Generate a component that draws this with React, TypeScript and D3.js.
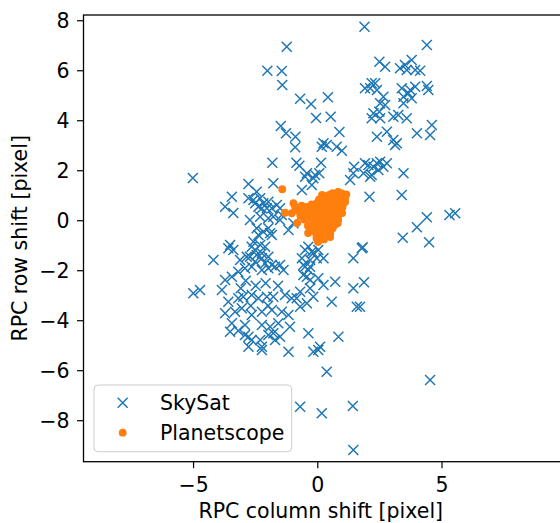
import React from 'react';
import * as d3 from 'd3';

// SkySat RPC shifts [col, row]
const skysat: [number, number][] = [
  [1.88, 7.76], [-1.25, 6.96], [-2.03, 6.0], [-1.45, 5.99], [-1.43, 5.43], [-0.71, 4.88], [-0.27, 4.67],
  [0.41, 4.94], [-0.07, 4.11], [0.52, 4.16], [-1.49, 3.79], [-1.28, 3.5], [-0.9, 3.36], [-0.91, 2.94],
  [0.23, 3.1], [0.16, 2.96], [0.36, 3.03], [0.87, 3.55], [0.97, 2.8], [0.76, 2.96], [-1.83, 2.32],
  [-0.86, 2.32], [-0.74, 2.2], [0.13, 2.32], [0.06, 1.9], [-0.44, 1.9], [-0.11, 1.83], [1.46, 2.16],
  [1.43, 1.9], [1.9, 2.3], [2.04, 2.23], [2.38, 2.3], [2.17, 1.83], [-5.03, 1.71], [-2.79, 1.47],
  [-1.79, 1.5], [1.9, 5.3], [2.17, 5.5], [2.38, 5.23], [2.24, 4.3], [2.48, 4.36], [2.17, 4.1],
  [2.38, 3.36], [2.48, 6.36], [4.39, 7.03], [2.71, 6.16], [3.31, 6.1], [3.51, 6.23], [3.78, 6.43],
  [3.92, 6.03], [4.12, 6.0], [3.58, 6.03], [2.11, 5.3], [2.31, 5.5], [2.64, 4.96], [2.51, 4.7],
  [2.71, 4.63], [3.38, 5.3], [3.72, 5.23], [3.92, 5.36], [4.39, 5.39], [4.45, 5.23], [3.45, 4.96],
  [3.78, 4.9], [3.65, 5.1], [3.45, 4.7], [2.51, 4.1], [3.04, 4.16], [3.24, 4.23], [3.58, 4.1],
  [4.59, 3.83], [4.52, 3.43], [3.99, 3.5], [2.78, 3.56], [3.04, 3.23], [3.18, 3.1], [3.11, 3.03],
  [2.51, 2.36], [2.78, 2.3], [2.64, 2.16], [2.24, 2.16], [3.45, 1.9], [1.84, 1.9], [2.44, 2.03],
  [2.08, 0.96], [3.38, 1.03], [4.39, 0.14], [3.99, -0.26], [3.42, -0.68], [4.48, -0.86], [5.3, 0.23],
  [5.53, 0.3], [1.81, -1.06], [1.86, -2.46], [1.7, -3.44], [4.52, -6.37],
  [-3.46, 0.96], [-3.73, 0.56], [-3.4, 0.31], [-2.59, 0.83], [-2.32, 0.9], [-2.19, 0.7], [-1.99, 0.76],
  [-2.39, 0.56], [-2.05, 0.5], [-1.85, 0.5], [-1.65, 0.63], [-1.52, 0.5], [-2.73, 0.03], [-2.32, 0.16],
  [-1.99, 0.1], [-1.79, 0.16], [-1.52, 0.03], [-2.46, -0.3], [-2.39, -0.57], [-2.19, -0.44], [-1.92, -0.5],
  [-1.18, -0.37], [-0.98, -0.1], [-3.53, -0.97], [-3.4, -1.17], [-3.6, -1.1], [-2.59, -0.84], [-2.52, -1.17],
  [-2.32, -0.97], [-2.12, -1.04], [-2.46, -1.37], [-2.25, -1.3], [-4.2, -1.57], [-3.13, -1.57], [-2.86, -1.44],
  [-1.52, -1.77], [-1.38, -1.97], [-0.51, -1.17], [-0.24, -1.24], [-0.64, -1.5], [-0.31, -1.57], [0.23, -1.5],
  [-0.51, -1.84], [-0.38, -1.97], [-0.44, -2.24], [1.43, -1.5], [1.77, -1.1], [1.3, 1.63], [2.11, 1.76],
  [-5.01, -2.9], [-4.74, -2.77], [-0.31, -2.7], [-0.18, -3.04], [-0.44, -3.3], [0.7, -2.44], [0.23, -2.57],
  [0.56, -3.24], [1.43, -2.7], [1.57, -3.44], [-0.38, -4.5], [0.09, -5.04], [0.83, -4.64], [-1.12, -4.24],
  [-0.85, -3.1], [-0.71, -3.44],
  [-3.53, -4.44], [-2.79, -4.64], [-2.32, -4.77], [-1.99, -4.57], [-1.79, -4.5], [-1.52, -4.64], [-2.79, -5.04],
  [-2.25, -5.17], [-1.18, -5.24], [-0.18, -5.24], [0.02, -5.17], [0.36, -6.04], [-0.71, -7.44], [0.16, -7.7],
  [1.41, -7.41], [1.43, -9.17],
  [-3.73, -2.37], [-3.86, -2.77], [-3.46, -2.24], [-3.2, -2.04], [-2.93, -1.9], [-2.66, -1.84], [-2.25, -1.97],
  [-1.99, -1.9], [-1.72, -1.84], [-3.6, -3.24], [-3.2, -3.1], [-3.0, -3.04], [-2.66, -2.97], [-2.39, -3.1],
  [-2.05, -3.04], [-1.79, -3.04], [-1.32, -2.97], [-1.05, -3.1], [-3.73, -3.7], [-3.33, -3.64], [-3.06, -3.5],
  [-2.66, -3.77], [-2.25, -3.64], [-1.85, -3.57], [-1.45, -3.64], [-1.18, -3.77], [-3.46, -4.1], [-2.93, -4.17],
  [-2.25, -4.17], [-1.92, -4.24], [-1.59, -4.1], [-2.93, -4.57], [-2.66, -4.77], [-2.25, -5.04], [-1.72, -4.77],
  [-0.58, -2.17], [-0.31, -2.37], [0.02, -2.3], [-0.71, -2.84],
  [-2.46, 1.16], [-2.79, 0.9], [-2.52, 0.7], [-2.25, 0.5], [-1.45, 0.23], [-1.99, -0.3], [-1.85, -0.57],
  [-2.66, -1.04], [-2.73, -1.44], [-2.25, -1.5], [-1.99, -1.44], [-2.52, -1.64], [-2.12, -1.7], [-1.85, -1.77],
  [-0.51, 1.76], [-0.18, 1.7], [-0.24, 1.43], [-0.64, 1.23], [-0.38, -1.04], [-0.18, -1.3], [0.02, -1.17],
  [-0.04, -1.5], [-0.58, -1.77], [-0.31, -1.84],
  [-2.9, -2.4], [-2.5, -2.6], [-3.1, -2.7], [-2.1, -2.5], [-2.7, -3.4], [-2.0, -3.4], [-3.2, -4.4], [-1.6, -2.6],
];

// Planetscope RPC shifts [col, row]
const planetscope: [number, number][] = [
  [-1.43, 1.26], [-1.32, 0.32], [-1.05, 0.3], [-0.98, 0.7], [-0.83, -0.09], [-0.39, -0.49], [0.01, -0.85],
  [0.5, -0.65], [0.82, 0.03], [0.98, 0.31], [1.1, 0.91], [0.82, 1.15], [0.17, 1.03], [-0.03, 0.71],
  [-0.43, 0.55], [-0.91, 0.55],
  [0.1, 0.3], [0.2, 0.1], [0.3, 0.4], [0.4, 0.2], [0.5, 0.5], [0.6, 0.3], [0.7, 0.6], [0.8, 0.8], [0.9, 1.0],
  [0.6, 0.9], [0.4, 0.8], [0.3, 0.95], [0.5, 1.05], [0.7, 1.0], [1.0, 0.7], [0.9, 0.5], [0.7, 0.2],
  [0.5, -0.1], [0.3, -0.2], [0.1, -0.3], [0.0, 0.0], [-0.1, 0.2], [-0.2, 0.4], [-0.3, 0.1], [-0.5, 0.3],
  [-0.6, 0.45], [-0.7, 0.2], [-0.4, -0.2], [-0.2, -0.4], [0.0, -0.5], [0.2, -0.6], [0.1, -0.75], [0.4, -0.4],
  [0.6, -0.3], [0.8, -0.1], [0.2, 0.6], [0.0, 0.5], [-0.1, 0.6], [0.35, 0.65], [0.55, 0.7], [0.75, 0.4],
  [0.85, 0.25], [0.65, 0.05], [0.45, 0.0], [0.25, -0.05], [0.05, -0.15], [-0.15, -0.1], [-0.35, 0.35],
  [-0.25, 0.65], [0.15, 0.85], [1.05, 1.0], [0.95, 0.85], [0.6, 1.1], [0.3, -0.45], [-0.05, -0.6], [0.5, -0.5],
  [-0.55, 0.05], [-0.45, 0.5], [-0.65, 0.6], [-0.8, 0.4], [-0.2, 0.1], [-0.1, -0.25], [0.15, 0.15],
  [0.35, 0.15], [0.55, 0.2], [0.75, 0.75], [0.85, 0.6], [1.0, 0.55], [1.1, 0.75], [1.15, 1.05], [0.95, 1.1],
  [0.4, 1.0], [0.25, 0.35], [0.45, 0.45], [0.65, 0.45], [0.05, 0.35], [-0.1, 0.4], [0.35, -0.3], [0.2, -0.35],
  [0.05, -0.4], [-0.1, -0.45], [0.15, -0.5], [0.4, -0.6], [0.25, -0.75], [-0.05, -0.7], [0.55, 0.9],
  [0.05, 0.85], [0.7, -0.15], [0.6, -0.05], [-0.3, -0.3],
];

const xTicks = [-5, 0, 5];
const yTicks = [-8, -6, -4, -2, 0, 2, 4, 6, 8];
const seriesNames = ['SkySat', 'Planetscope'];

const BLUE = '#1f77b4';
const ORANGE = '#ff7f0e';
const FONT = 'DejaVu Sans, sans-serif';
const FS = 20.5;

const fmt = (v: number) => (v < 0 ? `\u2212${Math.abs(v)}` : `${v}`);

const Cross = ({ cx, cy }: { cx: number; cy: number }) => {
  const s = 5;
  return (
    <path
      d={`M${cx - s},${cy - s}L${cx + s},${cy + s}M${cx - s},${cy + s}L${cx + s},${cy - s}`}
      stroke={BLUE}
      strokeWidth={1.5}
      fill="none"
    />
  );
};

export default function App() {
  const width = 560;
  const height = 523;
  const left = 83.5;
  const right = 562;
  const top = 15;
  const bottom = 461.7;

  const x = d3.scaleLinear().domain([-9.43, 9.83]).range([left, right]);
  const y = d3.scaleLinear().domain([-9.64, 8.23]).range([bottom, top]);

  return (
    <div style={{ position: 'fixed', left: 0, top: 0 }}>
      <svg width={width} height={height} style={{ display: 'block', background: '#fff' }} fontFamily={FONT}>
        <rect width={width} height={height} fill="#fff" />
        <defs>
          <clipPath id="plot">
            <rect x={left} y={top} width={right - left} height={bottom - top} />
          </clipPath>
        </defs>

        <g clipPath="url(#plot)">
          {skysat.map((d, i) => (
            <Cross key={`s-${i}`} cx={x(d[0])} cy={y(d[1])} />
          ))}
          {planetscope.map((d, i) => (
            <circle key={`p-${i}`} cx={x(d[0])} cy={y(d[1])} r={3.9} fill={ORANGE} />
          ))}
        </g>

        {/* spines */}
        <rect x={left} y={top} width={right - left} height={bottom - top} fill="none" stroke="#000" strokeWidth={1.3} />

        {xTicks.map(t => (
          <g key={`xt-${t}`} transform={`translate(${x(t)},${bottom})`}>
            <line y2={6.5} stroke="#000" strokeWidth={1.2} />
            <text y={30} textAnchor="middle" fontSize={FS}>{fmt(t)}</text>
          </g>
        ))}
        {yTicks.map(t => (
          <g key={`yt-${t}`} transform={`translate(${left},${y(t)})`}>
            <line x2={-6.5} stroke="#000" strokeWidth={1.2} />
            <text x={-14} dy="0.36em" textAnchor="end" fontSize={FS}>{fmt(t)}</text>
          </g>
        ))}

        <text x={(left + 560) / 2 - 1} y={518} textAnchor="middle" fontSize={FS}>RPC column shift [pixel]</text>
        <text transform={`translate(27,${(top + bottom) / 2}) rotate(-90)`} textAnchor="middle" fontSize={FS}>
          RPC row shift [pixel]
        </text>

        {/* legend */}
        <g>
          <rect x={94} y={385} width={197.7} height={66.7} rx={4} fill="#fff" fillOpacity={0.8} stroke="#cccccc" strokeWidth={1} />
          <Cross cx={122.7} cy={402.7} />
          <circle cx={122.7} cy={432.7} r={3.9} fill={ORANGE} />
          <text x={160} y={410} fontSize={FS}>{seriesNames[0]}</text>
          <text x={160} y={440} fontSize={FS}>{seriesNames[1]}</text>
        </g>
      </svg>
    </div>
  );
}
